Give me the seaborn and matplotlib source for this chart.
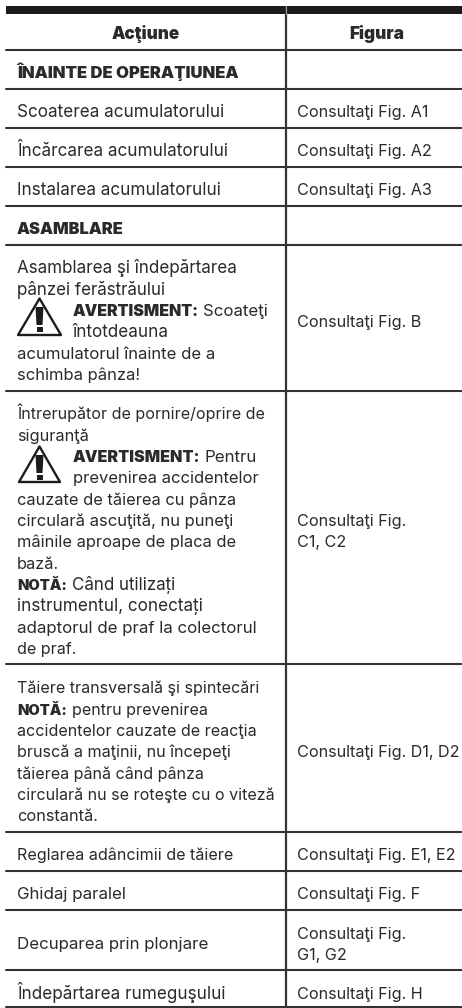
import matplotlib
matplotlib.use("Agg")
import matplotlib.pyplot as plt
import pandas as pd
import seaborn as sns
from matplotlib.patches import Polygon, Rectangle

# Continutul tabelului
headers = ["Acţiune", "Figura"]
sections = ["ÎNAINTE DE OPERAŢIUNEA", "ASAMBLARE"]
left_lines = [
    "Scoaterea acumulatorului",
    "Încărcarea acumulatorului",
    "Instalarea acumulatorului",
    "Asamblarea şi îndepărtarea",
    "pânzei ferăstrăului",
    "întotdeauna",
    "acumulatorul înainte de a",
    "schimba pânza!",
    "Întrerupător de pornire/oprire de",
    "siguranţă",
    "prevenirea accidentelor",
    "cauzate de tăierea cu pânza",
    "circulară ascuţită, nu puneţi",
    "mâinile aproape de placa de",
    "bază.",
    "instrumentul, conectați",
    "adaptorul de praf la colectorul",
    "de praf.",
    "Tăiere transversală şi spintecări",
    "accidentelor cauzate de reacţia",
    "bruscă a maţinii, nu începeţi",
    "tăierea până când pânza",
    "circulară nu se roteşte cu o viteză",
    "constantă.",
    "Reglarea adâncimii de tăiere",
    "Ghidaj paralel",
    "Decuparea prin plonjare",
    "Îndepărtarea rumeguşului",
]
right_lines = [
    "Consultaţi Fig. A1",
    "Consultaţi Fig. A2",
    "Consultaţi Fig. A3",
    "Consultaţi Fig. B",
    "Consultaţi Fig.",
    "C1, C2",
    "Consultaţi Fig. D1, D2",
    "Consultaţi Fig. E1, E2",
    "Consultaţi Fig. F",
    "Consultaţi Fig.",
    "G1, G2",
    "Consultaţi Fig. H",
]
# randuri cu inceput bold + continuare normala
mixed_bold = ["AVERTISMENT:", "AVERTISMENT:", "NOTĂ:", "NOTĂ:"]
mixed_rest = ["Scoateţi", "Pentru", "Când utilizați", "pentru prevenirea"]

# Pozitii in pixeli
header_x = [112, 349]
header_end = [180, 405]
header_y = [39, 39]
section_y = [78, 234]
section_end = [238, 124]
left_y = [117, 156, 195, 273, 295, 337, 359, 380, 419, 441, 483, 505, 526, 547, 569,
          611, 633, 654, 693, 736, 757, 779, 800, 821, 860, 899, 949, 999]
left_x = [17, 17, 17, 17, 17, 73, 17, 17, 17, 17, 73, 17, 17, 17, 17,
          17, 17, 17, 17, 17, 17, 17, 17, 17, 17, 17, 17, 17]
left_end = [225, 229, 223, 238, 167, 169, 217, 141, 264, 89, 260, 236, 235, 237, 59,
            206, 259, 76, 255, 256, 231, 203, 269, 98, 233, 127, 210, 227]
right_y = [117, 156, 195, 327, 526, 547, 757, 860, 899, 939, 960, 999]
mixed_y = [316, 462, 590, 715]
mixed_x = [73, 73, 17, 17]
mixed_bold_end = [199, 200, 67, 67]
mixed_rest_x = [203, 204, 72, 72]
mixed_rest_end = [268, 257, 176, 207]
rule_y = [49.5, 88.5, 127.5, 166.5, 205.5, 244.5, 390.5, 664, 831.5, 871, 910, 970, 1006.5]
triangles = [(17, 297, 62, 337), (18, 445, 61, 484)]

INK = "#2a2a2a"
LINE = "#333333"
BODY = 12.3
RIGHT = 11.65

sns.set_theme(style="white")
plt.rcParams["font.family"] = ["Inter", "DejaVu Sans"]

fig = plt.figure(figsize=(4.62, 10.08), dpi=100)
ax = fig.add_axes([0, 0, 1, 1])

# liniile orizontale
rules = pd.DataFrame({
    "x": [6, 462] * len(rule_y),
    "y": [v for v in rule_y for _ in range(2)],
    "rule": [i for i in range(len(rule_y)) for _ in range(2)],
})
sns.lineplot(data=rules, x="x", y="y", units="rule", estimator=None, color=LINE,
             linewidth=1.5, legend=False, ax=ax)
ax.add_patch(Rectangle((6, 6), 456, 8, color="#1c1c1c", lw=0))
ax.plot([286, 286], [6, 1007], color=LINE, lw=1.6, solid_capstyle="butt")
ax.plot([286, 286], [6, 14], color="#999999", lw=0.8)

ax.set_xlim(0, 462)
ax.set_ylim(1008, 0)
ax.set_axis_off()
renderer = fig.canvas.get_renderer()


def put(x, y, s, end, bold=False):
    # marimea fontului se ajusteaza putin ca linia sa se termine aproape de capat
    t = ax.text(x, y, s, ha="left", va="baseline", color=INK, fontsize=BODY,
                fontweight=900 if bold else 400)
    w = t.get_window_extent(renderer).width
    low = 0.85 if bold else 0.94
    t.set_fontsize(BODY * min(1.0, max(low, (end - x) / w)))


for x, y, e, s in zip(header_x, header_y, header_end, headers):
    put(x, y, s, e, bold=True)
for y, e, s in zip(section_y, section_end, sections):
    put(17, y, s, e, bold=True)
for x, y, e, s in zip(left_x, left_y, left_end, left_lines):
    put(x, y, s, e)
for y, s in zip(right_y, right_lines):
    ax.text(297, y, s, ha="left", va="baseline", color=INK, fontsize=RIGHT)
for x, y, e, x2, e2, a, b in zip(mixed_x, mixed_y, mixed_bold_end, mixed_rest_x, mixed_rest_end,
                                 mixed_bold, mixed_rest):
    put(x, y, a, e, bold=True)
    put(x2, y, b, e2)

# triunghiurile de avertizare
for x0, y0, x1, y1 in triangles:
    xm = (x0 + x1) / 2
    ax.add_patch(Polygon([(xm, y0 + 1.5), (x1 - 1, y1 - 2), (x0 + 1, y1 - 2)], closed=True,
                         fill=False, ec="#1c1c1c", lw=1.7, joinstyle="round"))
    ax.add_patch(Polygon([(xm - 4, y0 + 10), (xm + 4, y0 + 10), (xm + 3, y0 + 28), (xm - 3, y0 + 28)],
                         closed=True, color="#1c1c1c", lw=0))
    ax.add_patch(Rectangle((xm - 3, y0 + 30), 6, 5, color="#1c1c1c", lw=0))

fig.savefig("out.png", dpi=100)
